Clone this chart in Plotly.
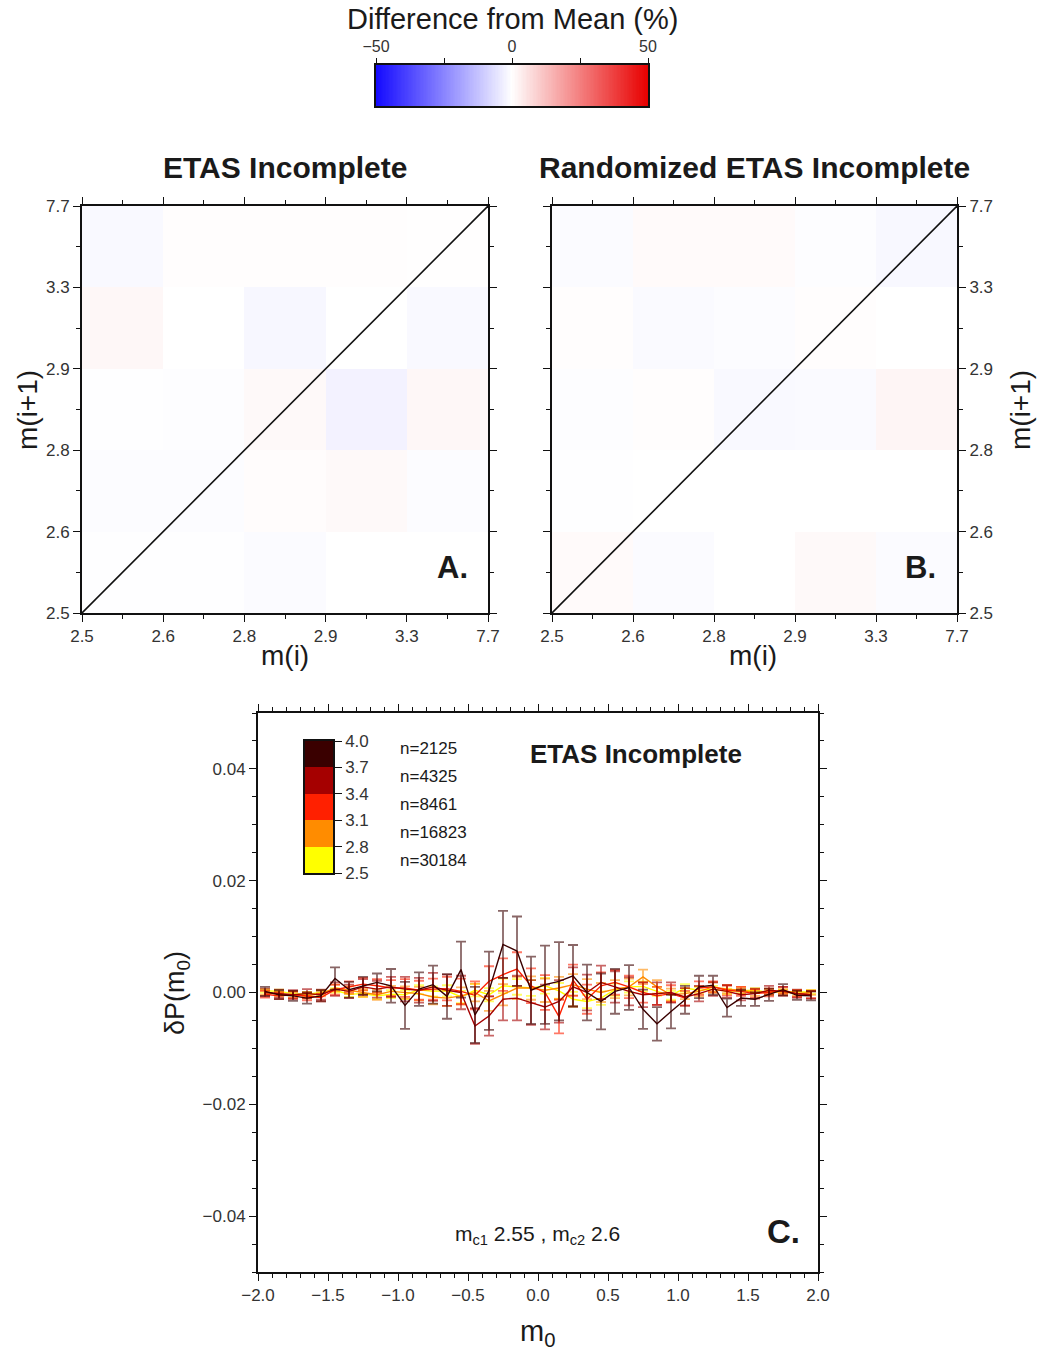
import numpy as np
import plotly.graph_objects as go

# ---------------- data ----------------
# magnitude bin edges (equal-population bins) shared by panels A and B
bin_edges = ["2.5", "2.6", "2.8", "2.9", "3.3", "7.7"]

# percent difference from mean, rows from lowest m(i+1) bin upward, columns m(i)
etas_diff = [
    [-0.3, -0.3, -0.8, 0.0, 0.0],
    [-0.6, -0.6, 0.6, 1.2, -0.6],
    [-0.3, -0.4, 1.2, -2.6, 1.6],
    [1.6, 0.0, -1.6, 0.0, -1.2],
    [-1.2, 0.4, 0.4, 0.4, 0.2],
]
rand_diff = [
    [1.0, -0.8, 0.0, 1.2, -0.8],
    [-0.2, 0.0, 0.0, 0.0, 0.0],
    [-0.4, 0.3, -1.2, -1.0, 2.0],
    [0.3, -1.0, -0.6, 0.3, 0.0],
    [-0.8, 1.0, 1.0, -0.5, -1.5],
]

# panel C: delta P(m0) per magnitude threshold
m0 = np.round(np.arange(-1.95, 2.0, 0.1), 2)
thresholds = ["2.5", "2.8", "3.1", "3.4", "3.7", "4.0"]
n_events = [2125, 4325, 8461, 16823, 30184]
series_colors = ["#3a0000", "#a50000", "#ff2000", "#ff8c00", "#ffff00"]

dp_40 = [0.0002, -0.0004, -0.0006, -0.0010, -0.0006, 0.0025, 0.0005, 0.0012, 0.0018, 0.0012,
         -0.0023, 0.0006, 0.0014, -0.0007, 0.0041, -0.0040, 0.0003, 0.0086, 0.0074, 0.0004,
         0.0014, 0.0020, 0.0030, 0.0000, -0.0016, 0.0002, 0.0009, -0.0030, -0.0056, -0.0034,
         -0.0013, 0.0010, 0.0013, -0.0027, -0.0010, -0.0012, -0.0004, 0.0005, -0.0005, -0.0006]
err_40 = [0.0008, 0.0008, 0.0009, 0.0010, 0.0010, 0.0020, 0.0014, 0.0016, 0.0016, 0.0030,
          0.0042, 0.0030, 0.0034, 0.0040, 0.0050, 0.0050, 0.0070, 0.0060, 0.0062, 0.0060,
          0.0070, 0.0070, 0.0055, 0.0050, 0.0050, 0.0040, 0.0040, 0.0035, 0.0030, 0.0030,
          0.0025, 0.0020, 0.0017, 0.0016, 0.0014, 0.0012, 0.0011, 0.0010, 0.0008, 0.0008]

dp_37 = [0.0000, -0.0002, -0.0004, -0.0002, -0.0004, 0.0006, 0.0002, 0.0010, 0.0006, 0.0010,
         0.0006, 0.0004, 0.0010, 0.0004, 0.0000, -0.0060, -0.0042, -0.0012, -0.0010, -0.0018,
         -0.0026, -0.0016, 0.0010, 0.0000, 0.0018, 0.0010, 0.0002, -0.0004, -0.0002, 0.0000,
         -0.0008, -0.0002, 0.0006, 0.0002, -0.0004, -0.0002, 0.0004, 0.0002, -0.0002, -0.0004]
err_37 = [0.0007, 0.0007, 0.0008, 0.0008, 0.0009, 0.0012, 0.0012, 0.0014, 0.0015, 0.0018,
          0.0022, 0.0022, 0.0025, 0.0028, 0.0030, 0.0032, 0.0035, 0.0038, 0.0040, 0.0040,
          0.0040, 0.0038, 0.0035, 0.0032, 0.0030, 0.0028, 0.0025, 0.0022, 0.0020, 0.0018,
          0.0016, 0.0014, 0.0012, 0.0011, 0.0010, 0.0009, 0.0008, 0.0008, 0.0007, 0.0007]

dp_34 = [-0.0003, -0.0006, -0.0004, -0.0007, -0.0009, 0.0005, 0.0010, 0.0015, 0.0012, 0.0008,
         0.0008, 0.0004, 0.0006, 0.0007, 0.0002, -0.0005, 0.0020, 0.0032, 0.0042, 0.0012,
         0.0000, -0.0043, 0.0022, -0.0012, 0.0012, 0.0018, 0.0010, 0.0000, -0.0006, -0.0002,
         -0.0010, 0.0008, 0.0010, 0.0004, 0.0002, -0.0002, 0.0000, 0.0004, -0.0002, -0.0004]
err_34 = [0.0006, 0.0006, 0.0006, 0.0007, 0.0007, 0.0009, 0.0010, 0.0011, 0.0012, 0.0014,
          0.0016, 0.0017, 0.0019, 0.0021, 0.0023, 0.0025, 0.0027, 0.0029, 0.0030, 0.0031,
          0.0031, 0.0030, 0.0028, 0.0026, 0.0024, 0.0022, 0.0020, 0.0018, 0.0016, 0.0015,
          0.0013, 0.0012, 0.0010, 0.0009, 0.0008, 0.0007, 0.0007, 0.0006, 0.0006, 0.0006]

dp_31 = [0.0000, -0.0003, -0.0004, -0.0006, -0.0002, 0.0008, 0.0004, 0.0000, -0.0004, 0.0002,
         0.0000, -0.0002, -0.0008, -0.0010, -0.0006, 0.0000, -0.0015, -0.0004, 0.0008, 0.0008,
         0.0004, 0.0008, 0.0014, 0.0006, 0.0000, 0.0006, 0.0010, 0.0028, 0.0010, -0.0004,
         -0.0002, 0.0002, 0.0010, 0.0006, 0.0004, 0.0000, 0.0002, 0.0001, -0.0002, 0.0000]
err_31 = [0.0004, 0.0004, 0.0005, 0.0005, 0.0005, 0.0006, 0.0007, 0.0008, 0.0009, 0.0010,
          0.0011, 0.0012, 0.0013, 0.0014, 0.0015, 0.0016, 0.0018, 0.0019, 0.0020, 0.0021,
          0.0021, 0.0020, 0.0019, 0.0018, 0.0017, 0.0016, 0.0015, 0.0013, 0.0012, 0.0011,
          0.0010, 0.0009, 0.0008, 0.0007, 0.0006, 0.0006, 0.0005, 0.0005, 0.0004, 0.0004]

dp_28 = [0.0003, 0.0002, -0.0002, -0.0003, 0.0000, 0.0004, -0.0003, -0.0002, -0.0006, -0.0003,
         -0.0004, 0.0005, 0.0002, 0.0003, -0.0008, 0.0004, -0.0004, 0.0012, 0.0010, 0.0008,
         0.0012, 0.0003, -0.0012, -0.0016, -0.0010, 0.0005, 0.0010, 0.0011, 0.0002, -0.0005,
         0.0008, 0.0004, 0.0006, 0.0002, 0.0003, 0.0004, 0.0000, 0.0002, 0.0001, 0.0001]
err_28 = [0.0003, 0.0003, 0.0003, 0.0004, 0.0004, 0.0004, 0.0005, 0.0006, 0.0006, 0.0007,
          0.0008, 0.0008, 0.0009, 0.0010, 0.0011, 0.0011, 0.0012, 0.0013, 0.0014, 0.0014,
          0.0014, 0.0014, 0.0013, 0.0012, 0.0012, 0.0011, 0.0010, 0.0009, 0.0008, 0.0008,
          0.0007, 0.0006, 0.0006, 0.0005, 0.0004, 0.0004, 0.0004, 0.0003, 0.0003, 0.0003]

# ---------------- layout helpers ----------------
W, H = 1037, 1352
FONT = "Liberation Sans, Arial, Helvetica, sans-serif"
TXT = "#1a1a1a"
TICK = "#333333"


def fx(x):
    return x / W


def fy(y):
    return 1 - y / H


diverging = [[0.0, "rgb(20,10,255)"], [0.5, "rgb(255,255,255)"], [1.0, "rgb(232,0,0)"]]

fig = go.Figure()

cell_centers = [0.5, 1.5, 2.5, 3.5, 4.5]

# panels A and B: transition-difference matrices with the m(i)=m(i+1) diagonal
for k, z in ((1, etas_diff), (2, rand_diff)):
    xa = "x" if k == 1 else "x2"
    ya = "y" if k == 1 else "y2"
    fig.add_trace(go.Heatmap(
        z=z, x=cell_centers, y=cell_centers, colorscale=diverging,
        zmin=-50, zmax=50, showscale=False, xaxis=xa, yaxis=ya, hoverinfo="skip"))
    fig.add_trace(go.Scatter(
        x=[0, 5], y=[0, 5], mode="lines", line=dict(color="#111", width=1.6),
        xaxis=xa, yaxis=ya, showlegend=False, hoverinfo="skip"))

# panel C: delta P curves, smallest threshold drawn first
series = [
    (dp_28, err_28, series_colors[4]),
    (dp_31, err_31, series_colors[3]),
    (dp_34, err_34, series_colors[2]),
    (dp_37, err_37, series_colors[1]),
    (dp_40, err_40, series_colors[0]),
]


def rgba(hex_color, a):
    h = hex_color.lstrip("#")
    r, g, b = int(h[0:2], 16), int(h[2:4], 16), int(h[4:6], 16)
    return f"rgba({r},{g},{b},{a})"


for vals, errs, col in series:
    fig.add_trace(go.Scatter(
        x=m0, y=vals, mode="lines",
        line=dict(color=col, width=1.4),
        error_y=dict(type="data", array=errs, color=rgba(col, 0.6), thickness=1.8, width=5),
        xaxis="x3", yaxis="y3", showlegend=False, hoverinfo="skip"))

# top colour key for panels A/B
key_vals = np.linspace(-50, 50, 201)
fig.add_trace(go.Heatmap(
    z=[key_vals], x=key_vals, y=[0], colorscale=diverging, zmin=-50, zmax=50,
    showscale=False, xaxis="x4", yaxis="y4", hoverinfo="skip"))

# threshold key inside panel C
key_levels = [0, 1, 2, 3, 4]
discrete = [[0.0, series_colors[4]], [0.25, series_colors[3]], [0.5, series_colors[2]],
            [0.75, series_colors[1]], [1.0, series_colors[0]]]
fig.add_trace(go.Heatmap(
    z=[[v] for v in key_levels], x=[0], y=[2.65, 2.95, 3.25, 3.55, 3.85],
    colorscale=discrete, zmin=0, zmax=4, showscale=False,
    xaxis="x5", yaxis="y5", hoverinfo="skip"))

frame = dict(showline=True, linecolor="#111", linewidth=2, mirror="ticks",
             ticks="outside", tickcolor="#111", showgrid=False, zeroline=False,
             automargin=False, tickfont=dict(family=FONT, size=17, color=TICK))

mat_axis = dict(frame, range=[0, 5], tickvals=[0, 1, 2, 3, 4, 5], ticktext=bin_edges,
                ticklen=7, tickwidth=1.2,
                minor=dict(tickvals=cell_centers, ticklen=4, tickwidth=1, tickcolor="#111",
                           ticks="outside"))

layout = dict(
    width=W, height=H, margin=dict(l=0, r=0, t=0, b=0, autoexpand=False),
    paper_bgcolor="white", plot_bgcolor="white", showlegend=False,
    font=dict(family=FONT, color=TXT),
    xaxis=dict(mat_axis, domain=[fx(82), fx(488)], anchor="y"),
    yaxis=dict(mat_axis, domain=[fy(613), fy(206)], anchor="x"),
    xaxis2=dict(mat_axis, domain=[fx(552), fx(957)], anchor="y2"),
    yaxis2=dict(mat_axis, domain=[fy(613), fy(206)], anchor="x2", side="right"),
    xaxis3=dict(frame, domain=[fx(258), fx(818)], anchor="y3", range=[-2, 2],
                tickvals=[-2, -1.5, -1, -0.5, 0, 0.5, 1, 1.5, 2], tickformat=".1f",
                ticklen=7, tickwidth=1.2, tickfont=dict(family=FONT, size=17, color=TICK),
                minor=dict(dtick=0.1, tick0=0, ticklen=4, tickwidth=1, tickcolor="#111",
                           ticks="outside")),
    yaxis3=dict(frame, domain=[fy(1272), fy(713)], anchor="x3", range=[-0.05, 0.05],
                tickvals=[-0.04, -0.02, 0, 0.02, 0.04], tickformat=".2f",
                ticklen=7, tickwidth=1.2, tickfont=dict(family=FONT, size=17, color=TICK),
                minor=dict(dtick=0.005, tick0=0, ticklen=4, tickwidth=1, tickcolor="#111",
                           ticks="outside")),
    xaxis4=dict(domain=[fx(376), fx(648)], anchor="y4", range=[-50, 50], side="top",
                showline=True, linecolor="#111", linewidth=2, mirror=True, automargin=False,
                ticks="outside", ticklen=5, tickcolor="#111", tickwidth=1,
                tickvals=[-50, 0, 50], showgrid=False, zeroline=False,
                tickfont=dict(family=FONT, size=16, color=TICK),
                minor=dict(tickvals=[-25, 25], ticklen=5, tickcolor="#111", ticks="outside")),
    yaxis4=dict(domain=[fy(106), fy(65)], anchor="x4", range=[-0.5, 0.5],
                showline=True, linecolor="#111", linewidth=2, mirror=True, automargin=False,
                showticklabels=False, ticks="", showgrid=False, zeroline=False),
    xaxis5=dict(domain=[fx(305), fx(333)], anchor="y5", range=[-0.5, 0.5],
                showline=True, linecolor="#111", linewidth=1.5, mirror=True, automargin=False,
                showticklabels=False, ticks="", showgrid=False, zeroline=False),
    yaxis5=dict(domain=[fy(873), fy(741)], anchor="x5", range=[2.5, 4.0], side="right",
                showline=True, linecolor="#111", linewidth=1.5, mirror=True, automargin=False,
                tickvals=[2.5, 2.8, 3.1, 3.4, 3.7, 4.0], tickformat=".1f",
                ticks="outside", ticklen=7, tickcolor="#111", showgrid=False, zeroline=False,
                tickfont=dict(family=FONT, size=17, color=TICK)),
)
fig.update_layout(**layout)

ann = []


def text(x, y, s, size, bold=False, angle=0, anchor="center"):
    ann.append(dict(x=fx(x), y=fy(y), xref="paper", yref="paper", text=f"<b>{s}</b>" if bold else s,
                    showarrow=False, xanchor=anchor, yanchor="middle", textangle=angle,
                    font=dict(family=FONT, size=size, color=TXT)))


text(512, 19, "Difference from Mean (%)", 29)
text(285, 167, "ETAS Incomplete", 30, bold=True)
text(754, 167, "Randomized ETAS Incomplete", 30, bold=True)
text(285, 655, "m(i)", 28)
text(753, 655, "m(i)", 28)
text(27, 410, "m(i+1)", 28, angle=-90)
text(1020, 410, "m(i+1)", 28, angle=-90)
text(452, 567, "A.", 31, bold=True)
text(920, 567, "B.", 31, bold=True)
text(636, 754, "ETAS Incomplete", 26, bold=True)
text(783, 1231, "C.", 33, bold=True)
text(537, 1235, "m<sub>c1</sub> 2.55 , m<sub>c2</sub> 2.6", 21)
text(537, 1333, "m<sub>0</sub>", 29)
text(177, 993, "δP(m<sub>0</sub>)", 27, angle=-90)

# event counts beside the threshold key, top (largest threshold) first
key_rows_px = [748, 776, 804, 832, 860]
for n, yy in zip(n_events, key_rows_px):
    text(398, yy, f"n={n}", 17, anchor="left")

fig.update_layout(annotations=ann)
fig.write_html("out.html")
